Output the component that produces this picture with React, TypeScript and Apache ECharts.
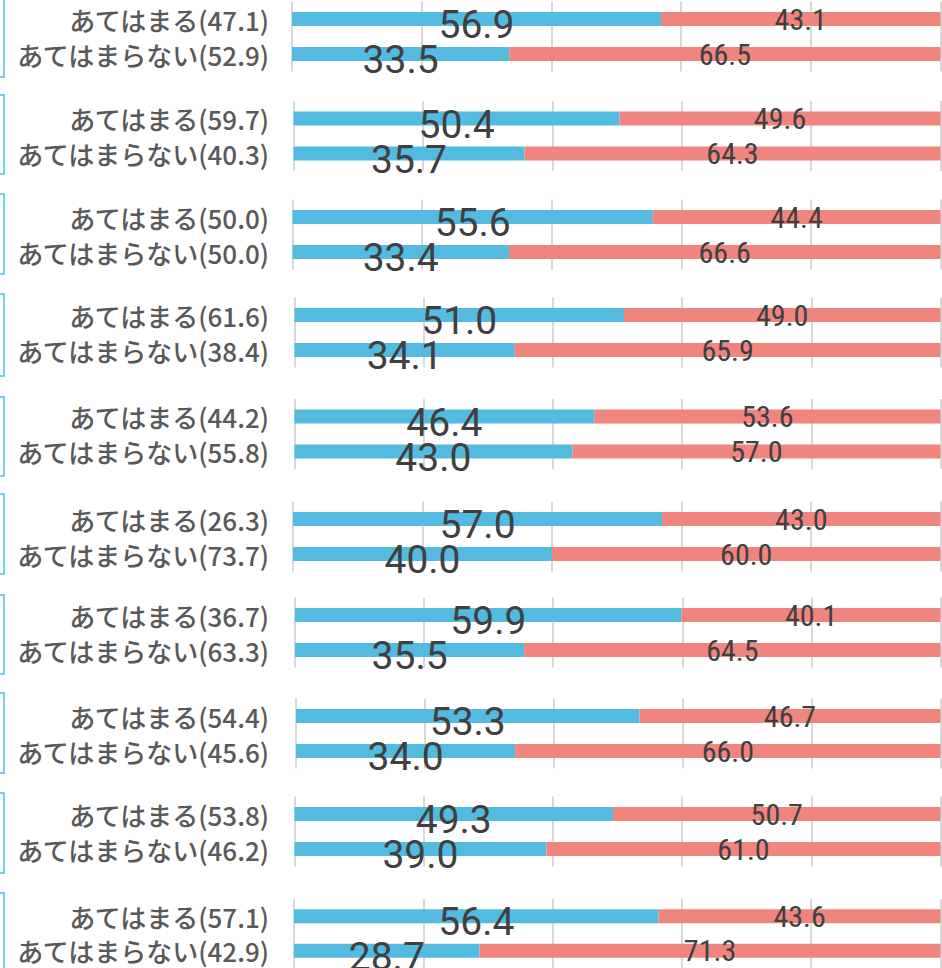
import React, { useEffect, useRef } from "react";
import * as echarts from "echarts";

const rowNames = ["あてはまる", "あてはまらない"];
const yesShare = [47.1, 59.7, 50.0, 61.6, 44.2, 26.3, 36.7, 54.4, 53.8, 57.1];
const noShare = [52.9, 40.3, 50.0, 38.4, 55.8, 73.7, 63.3, 45.6, 46.2, 42.9];
const yesBlue = [56.9, 50.4, 55.6, 51.0, 46.4, 57.0, 59.9, 53.3, 49.3, 56.4];
const yesRed = [43.1, 49.6, 44.4, 49.0, 53.6, 43.0, 40.1, 46.7, 50.7, 43.6];
const noBlue = [33.5, 35.7, 33.4, 34.1, 43.0, 40.0, 35.5, 34.0, 39.0, 28.7];
const noRed = [66.5, 64.3, 66.6, 65.9, 57.0, 60.0, 64.5, 66.0, 61.0, 71.3];

// layout (pixels)
const panelTops = [1.5, 101, 199.5, 297.5, 399, 501.5, 597.5, 698.5, 796.5, 899];
const panelLefts = [292, 293.5, 292.5, 294.5, 294.5, 293, 295, 296, 294.5, 294];
const bracketTops = [-1, 95, 194, 294, 397, 494, 595, 693, 793, 893];
const bracketBottoms = [77, 174, 274, 376, 476, 574, 674, 773, 873, 975];
const LABEL_RIGHT = 269;

const BLUE = "#53bbdf";
const RED = "#f0857e";

export default function App() {
  const ref = useRef<HTMLDivElement>(null);
  useEffect(() => {
    document.body.style.margin = "0";
    if (!ref.current) return;
    const chart = echarts.init(ref.current, null, { renderer: "svg" });
    const grids: any[] = [];
    const xAxes: any[] = [];
    const yAxes: any[] = [];
    const series: any[] = [];
    const graphics: any[] = [];
    for (let i = 0; i < yesShare.length; i++) {
      grids.push({
        left: panelLefts[i],
        right: 1.5,
        top: panelTops[i],
        height: 70,
        containLabel: false,
      });
      xAxes.push({
        type: "value",
        gridIndex: i,
        min: 0,
        max: 100,
        interval: 20,
        axisLabel: { show: false },
        axisLine: { show: false },
        axisTick: { show: false },
        splitLine: { show: true, lineStyle: { color: "#d9d9d9", width: 2 } },
      });
      yAxes.push({
        type: "category",
        gridIndex: i,
        inverse: true,
        data: [
          `${rowNames[0]}(${yesShare[i].toFixed(1)})`,
          `${rowNames[1]}(${noShare[i].toFixed(1)})`,
        ],
        axisLine: { show: false },
        axisTick: { show: false },
        axisLabel: {
          margin: panelLefts[i] - LABEL_RIGHT,
          fontSize: 26,
          fontWeight: 500,
          color: "#595959",
          fontFamily: "'Noto Sans CJK JP', sans-serif",
          offset: [0, 2],
        },
      });
      series.push({
        type: "bar",
        xAxisIndex: i,
        yAxisIndex: i,
        stack: "s" + i,
        barWidth: 14,
        data: [yesBlue[i], noBlue[i]],
        itemStyle: { color: BLUE },
        label: {
          show: true,
          position: "inside",
          offset: [0, 6],
          formatter: (p: any) => Number(p.value).toFixed(1),
          fontSize: 39,
          fontFamily: "Roboto, sans-serif",
          color: "#404040",
        },
      });
      series.push({
        type: "bar",
        xAxisIndex: i,
        yAxisIndex: i,
        stack: "s" + i,
        barWidth: 14,
        data: [yesRed[i], noRed[i]],
        itemStyle: { color: RED },
        label: {
          show: true,
          position: "inside",
          offset: [0, 0],
          formatter: (p: any) => Number(p.value).toFixed(1),
          fontSize: 30,
          fontWeight: "normal",
          fontFamily: "'Liberation Sans Narrow', 'Roboto Condensed', Roboto, sans-serif",
          color: "#404040",
        },
      });
      graphics.push({
        type: "polyline",
        shape: {
          points: [
            [0, bracketTops[i]],
            [4, bracketTops[i]],
            [4, bracketBottoms[i]],
            [0, bracketBottoms[i]],
          ],
        },
        style: { stroke: "#4fc0e6", lineWidth: 1.5, fill: "none" },
        silent: true,
      });
    }
    chart.setOption({
      animation: false,
      backgroundColor: "#ffffff",
      grid: grids,
      xAxis: xAxes,
      yAxis: yAxes,
      series,
      graphic: graphics,
    });
    return () => chart.dispose();
  }, []);
  return (
    <div
      ref={ref}
      style={{ position: "absolute", left: 0, top: 0, width: 942, height: 968 }}
    />
  );
}
